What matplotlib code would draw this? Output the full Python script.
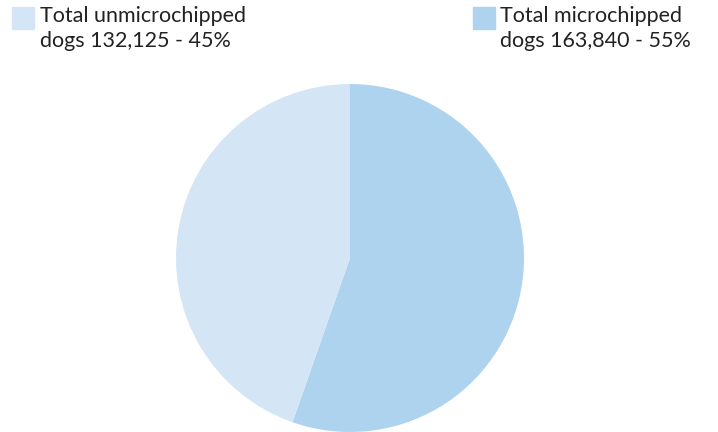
import matplotlib
matplotlib.use('Agg')
import matplotlib.pyplot as plt
from matplotlib.patches import Rectangle

labels = ['Total microchipped\ndogs 163,840 - 55%', 'Total unmicrochipped\ndogs 132,125 - 45%']
values = [163840, 132125]
colors = ['#aed3ef', '#d4e5f5']

plt.rcParams['font.family'] = ['Lato', 'DejaVu Sans']

W, H = 718, 432
fig = plt.figure(figsize=(W / 100, H / 100), dpi=100)

# pie axes: centre (350, 258), radius 174 px
ax = fig.add_axes([176 / W, 0, 348 / W, 348 / H])
ax.pie(values, colors=colors, startangle=90, counterclock=False,
       wedgeprops={'linewidth': 0}, radius=1)
ax.set_xlim(-1, 1)
ax.set_ylim(-1, 1)
ax.set_aspect('equal')
ax.axis('off')

# legend items: (swatch x, text x)
pos = {1: (12, 40), 0: (473, 500)}
for i, lab in enumerate(labels):
    sx, tx = pos[i]
    fig.patches.append(Rectangle((sx / W, 1 - 29 / H), 22 / W, 22 / H,
                                 transform=fig.transFigure, color=colors[i]))
    fig.text(tx / W, 1 - 6 / H, lab, ha='left', va='top', fontsize=15.5,
             color='#222222', linespacing=1.3)

fig.savefig('out.png', dpi=100)
